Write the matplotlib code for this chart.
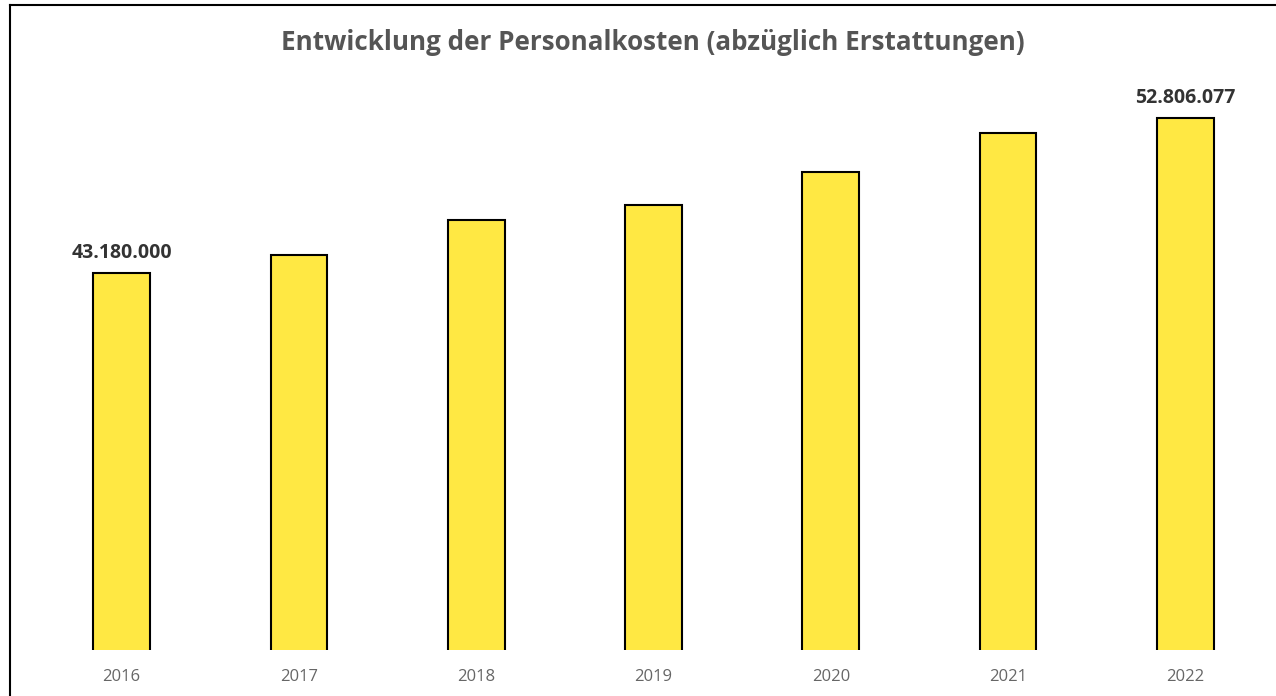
import matplotlib
matplotlib.use("Agg")
import matplotlib.pyplot as plt
from matplotlib.lines import Line2D

plt.rcParams['font.family'] = ['Open Sans', 'DejaVu Sans']

years = ['2016', '2017', '2018', '2019', '2020', '2021', '2022']
kosten = [43180000, 44300000, 46470000, 47410000, 49450000, 51880000, 52806077]
labeled = [0, 6]

fig = plt.figure(figsize=(12.76, 6.96), dpi=100)
ax = fig.add_axes([33 / 1276, 46 / 696, 1241 / 1276, 570 / 696])

x = range(len(years))
ax.bar(x, kosten, width=0.32, color='#FFE843', edgecolor='black', linewidth=1.5, zorder=2)

for i in labeled:
    label = f"{kosten[i]:,}".replace(",", ".")
    ax.annotate(label, (i, kosten[i]), xytext=(0, 7), textcoords='offset points',
                ha='center', va='bottom', fontsize=14, fontweight='bold', color='#333333')

ax.set_xlim(-0.5, 6.5)
ax.set_ylim(19770000, 55170000)
ax.set_xticks(list(x))
ax.set_xticklabels(years, fontsize=12, color='#666666')
ax.tick_params(axis='x', length=0, pad=14)
ax.set_yticks([])
for s in ax.spines.values():
    s.set_visible(False)

fig.text(653 / 1276, 1 - 43 / 696, 'Entwicklung der Personalkosten (abzüglich Erstattungen)',
         ha='center', va='center', fontsize=18.7, fontweight='bold', color='#555555')

# frame lines at left and top
fig.add_artist(Line2D([10 / 1276, 10 / 1276], [0, 1 - 5 / 696], color='black', linewidth=1.5))
fig.add_artist(Line2D([10 / 1276, 1], [1 - 5 / 696, 1 - 5 / 696], color='black', linewidth=1.5))

fig.savefig('out.png', dpi=100)
